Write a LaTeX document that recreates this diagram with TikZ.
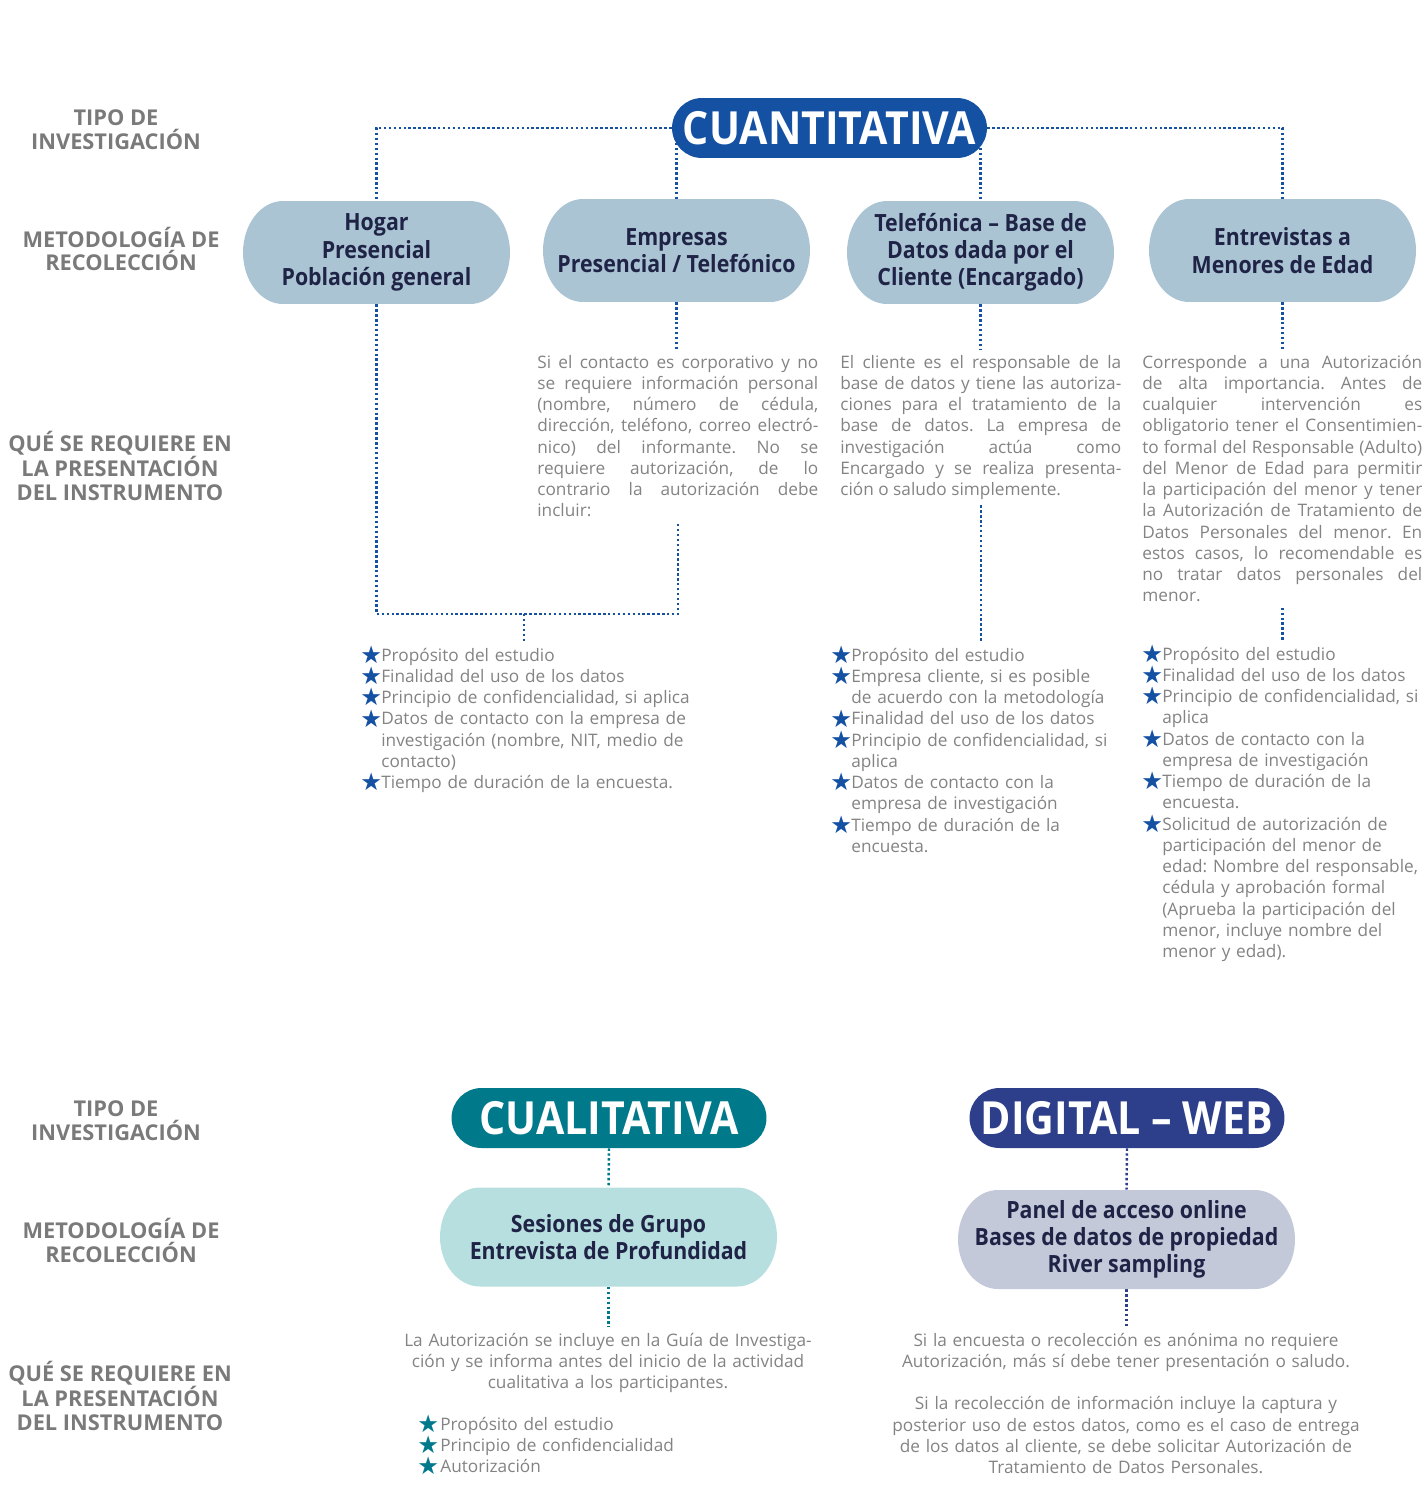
\documentclass[tikz,border=0pt]{standalone}
\usepackage{fontspec}
\setmainfont{Open Sans}
\newfontfamily\condfont[FakeStretch=0.9]{Open Sans}
\newfontfamily\sidecondfont[FakeStretch=1.0]{Open Sans}
\newfontfamily\symfont{DejaVu Sans}
\usetikzlibrary{calc, backgrounds}

\definecolor{cuantblue}{HTML}{1551A2}
\definecolor{cualteal}{HTML}{00798A}
\definecolor{digiblue}{HTML}{2D3E8A}
\definecolor{boxblue}{HTML}{ABC4D4}
\definecolor{boxteal}{HTML}{B8DFE0}
\definecolor{boxgray}{HTML}{C3C9D9}
\definecolor{boxtext}{HTML}{1F2447}
\definecolor{labelgray}{HTML}{7A7A7A}
\definecolor{bodygray}{HTML}{838383}

\newcommand{\bodyfont}{\fontsize{9.8pt}{12.1pt}\selectfont}
\newcommand{\boxfont}{\condfont\bfseries\fontsize{13.5pt}{15.5pt}\selectfont}
\newcommand{\sidefont}{\sidecondfont\bfseries\fontsize{12.4pt}{13.6pt}\selectfont}
\newcommand{\pillfont}{\condfont\bfseries\fontsize{26pt}{30pt}\selectfont}
\newcommand{\itm}{\makebox[0.42cm][l]{\smash{\raisebox{-1.3pt}{\textcolor{cuantblue}{\symfont\fontsize{13.8pt}{14pt}\selectfont ★}}}}}
\newcommand{\itmq}{\makebox[0.46cm][l]{\smash{\raisebox{-1.3pt}{\textcolor{cualteal}{\symfont\fontsize{13.8pt}{14pt}\selectfont ★}}}}}
\newcommand{\cnt}{\hspace*{0.42cm}}
\hyphenpenalty=10000
\frenchspacing

\begin{document}
\begin{tikzpicture}[x=0.02cm, y=-0.02cm,
  pill/.style={fill=#1, rounded corners=0.6cm, minimum height=1.2cm,
    minimum width=6.3cm, inner sep=0pt, text=white, font=\pillfont},
  methbox/.style n args={3}{minimum width=#2, minimum height=#3, inner sep=0pt,
    align=center, text=boxtext, font=\boxfont, fill=white,
    path picture={\fill[#1]
      ([xshift=0.8cm]path picture bounding box.north west)
      -- ([xshift=-0.8cm]path picture bounding box.north east)
      arc[start angle=90, end angle=-90, x radius=0.8cm, y radius=#3/2]
      -- ([xshift=0.8cm]path picture bounding box.south west)
      arc[start angle=270, end angle=90, x radius=0.8cm, y radius=#3/2]
      -- cycle;}},
  sidelabel/.style={align=center, text=labelgray, font=\sidefont},
  bodytext/.style={text width=5.62cm, align=justify, text=bodygray,
    font=\bodyfont\frenchspacing, inner xsep=0pt, inner ysep=3pt, anchor=base west},
  centertext/.style={text width=#1, align=center, text=bodygray,
    font=\bodyfont, inner xsep=0pt, inner ysep=3pt, anchor=base},
  itemlist/.style={text width=7.4cm, align=left, text=bodygray,
    font=\bodyfont, inner xsep=0pt, inner ysep=3pt, anchor=base west},
  dots/.style={draw=#1, line width=1.4pt, dash pattern=on 1.4pt off 1.4pt}]
  \useasboundingbox (0,0) rectangle (1427,1505);

  \node[sidelabel] (tipoA) at (116,130) {TIPO DE\\INVESTIGACIÓN};
  \node[sidelabel] (metA) at (121,249) {METODOLOGÍA DE\\RECOLECCIÓN};
  \node[sidelabel] (queA) at (120,466) {QUÉ SE REQUIERE EN\\LA PRESENTACIÓN\\DEL INSTRUMENTO};
  \node[sidelabel] (tipoB) at (116,1121) {TIPO DE\\INVESTIGACIÓN};
  \node[sidelabel] (metB) at (121,1240) {METODOLOGÍA DE\\RECOLECCIÓN};
  \node[sidelabel] (queB) at (120,1396) {QUÉ SE REQUIERE EN\\LA PRESENTACIÓN\\DEL INSTRUMENTO};

  \node[pill=cuantblue] (cuant) at (829.5,128) {CUANTITATIVA};
  \node[methbox={boxblue}{5.34cm}{2.06cm}] (hogar) at (376.5,252.5) {Hogar\\Presencial\\Población general};
  \node[methbox={boxblue}{5.34cm}{2.06cm}] (empresas) at (676.5,250.5) {Empresas\\Presencial / Telefónico};
  \node[methbox={boxblue}{5.34cm}{2.06cm}] (telef) at (980.5,252.5) {Telefónica – Base de\\Datos dada por el\\Cliente (Encargado)};
  \node[methbox={boxblue}{5.34cm}{2.06cm}] (menores) at (1282.5,250.5) {Entrevistas a\\Menores de Edad};

  \node[bodytext] (empTxt) at (537,368) {Si el contacto es corporativo y no\linebreak
    se requiere información personal\linebreak (nombre, número de cédula,\linebreak
    dirección, teléfono, correo electró-\linebreak nico) del informante. No se\linebreak
    requiere autorización, de lo\linebreak contrario la autorización debe\linebreak incluir:};
  \node[bodytext] (telTxt) at (840,368) {El cliente es el responsable de la\linebreak
    base de datos y tiene las autoriza-\linebreak ciones para el tratamiento de la\linebreak
    base de datos. La empresa de\linebreak investigación actúa como\linebreak
    Encargado y se realiza presenta-\linebreak ción o saludo simplemente.};
  \node[bodytext, text width=5.6cm] (menTxt) at (1142,368) {Corresponde a una Autorización\linebreak
    de alta importancia. Antes de\linebreak cualquier intervención es\linebreak
    obligatorio tener el Consentimien-\linebreak to formal del Responsable (Adulto)\linebreak
    del Menor de Edad para permitir\linebreak la participación del menor y tener\linebreak
    la Autorización de Tratamiento de\linebreak Datos Personales del menor. En\linebreak
    estos casos, lo recomendable es\linebreak no tratar datos personales del\linebreak menor.};

  \node[itemlist] (listA) at (360,661) {\itm Propósito del estudio\\
    \itm Finalidad del uso de los datos\\
    \itm Principio de confidencialidad, si aplica\\
    \itm Datos de contacto con la empresa de\\
    \cnt investigación (nombre, NIT, medio de\\
    \cnt contacto)\\
    \itm Tiempo de duración de la encuesta.};
  \node[itemlist, text width=6cm] (listB) at (830,661) {\itm Propósito del estudio\\
    \itm Empresa cliente, si es posible\\
    \cnt de acuerdo con la metodología\\
    \itm Finalidad del uso de los datos\\
    \itm Principio de confidencialidad, si\\
    \cnt aplica\\
    \itm Datos de contacto con la\\
    \cnt empresa de investigación\\
    \itm Tiempo de duración de la\\
    \cnt encuesta.};
  \node[itemlist, text width=6cm] (listC) at (1141,660) {\itm Propósito del estudio\\
    \itm Finalidad del uso de los datos\\
    \itm Principio de confidencialidad, si\\
    \cnt aplica\\
    \itm Datos de contacto con la\\
    \cnt empresa de investigación\\
    \itm Tiempo de duración de la\\
    \cnt encuesta.\\
    \itm Solicitud de autorización de\\
    \cnt participación del menor de\\
    \cnt edad: Nombre del responsable,\\
    \cnt cédula y aprobación formal\\
    \cnt (Aprueba la participación del\\
    \cnt menor, incluye nombre del\\
    \cnt menor y edad).};
  \coordinate (jn) at (524,614);

  \node[pill=cualteal] (cual) at (609,1118) {CUALITATIVA};
  \node[pill=digiblue] (digi) at (1127,1118) {DIGITAL – WEB};
  \node[methbox={boxteal}{6.74cm}{1.98cm}] (sesiones) at (608.5,1237) {Sesiones de Grupo\\Entrevista de Profundidad};
  \node[methbox={boxgray}{6.74cm}{1.98cm}] (panel) at (1126.5,1239.5) {Panel de acceso online\\Bases de datos de propiedad\\River sampling};

  \node[centertext=8.6cm] (cualTxt) at (608,1346) {La Autorización se incluye en la Guía de Investiga-\\
    ción y se informa antes del inicio de la actividad\\cualitativa a los participantes.};
  \node[itemlist] (listD) at (417,1430) {\itmq Propósito del estudio\\
    \itmq Principio de confidencialidad\\
    \itmq Autorización};
  \node[centertext=10cm] (digiTxt) at (1126,1346) {Si la encuesta o recolección es anónima no requiere\\
    Autorización, más sí debe tener presentación o saludo.\\[12.1pt]
    Si la recolección de información incluye la captura y\\
    posterior uso de estos datos, como es el caso de entrega\\
    de los datos al cliente, se debe solicitar Autorización de\\
    Tratamiento de Datos Personales.};

  \begin{scope}[on background layer]
    \draw[dots=cuantblue] (cuant.west) -| (hogar.north);
    \draw[dots=cuantblue] (cuant.east) -| (menores.north);
    \draw[dots=cuantblue] (cuant.center -| empresas.north) -- (empresas.north);
    \draw[dots=cuantblue] (cuant.center -| telef.north) -- (telef.north);
    \draw[dots=cuantblue] (empresas.south) -- (empresas.south |- empTxt.north);
    \draw[dots=cuantblue] (telef.south) -- (telef.south |- telTxt.north);
    \draw[dots=cuantblue] (menores.south) -- (menores.south |- menTxt.north);
    \draw[dots=cuantblue] (hogar.south) |- (jn) -| (empTxt.south);
    \draw[dots=cuantblue] (jn) -- (jn |- listA.north);
    \draw[dots=cuantblue] (telTxt.south) -- (telTxt.south |- listB.north);
    \draw[dots=cuantblue] (menTxt.south) -- (menTxt.south |- listC.north);
    \draw[dots=cualteal] (cual.south) -- (sesiones.north);
    \draw[dots=cualteal] (sesiones.south) -- (sesiones.south |- cualTxt.north);
    \draw[dots=digiblue] (digi.south) -- (panel.north);
    \draw[dots=digiblue] (panel.south) -- (panel.south |- digiTxt.north);
  \end{scope}
\end{tikzpicture}
\end{document}
